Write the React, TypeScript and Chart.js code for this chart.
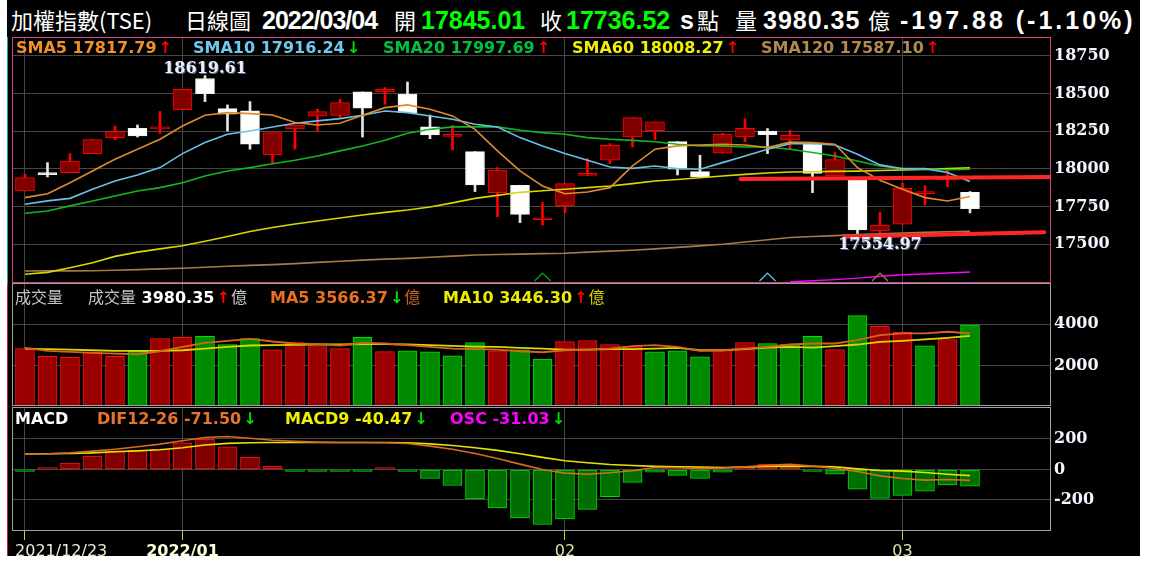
import React, { useEffect, useRef } from 'react';
import { Chart, registerables } from 'chart.js';

Chart.register(...registerables);

// ---------------- data ----------------
const lastDate = '2022/03/04';
const xTickIdx = [0, 7, 24, 39];
const xTickLabels = ['2021/12/23', '2022/01', '02', '03'];
const priceTicks = [17500, 17750, 18000, 18250, 18500, 18750];
const volumeTicks = [2000, 4000];
const macdTicks = [-200, 0, 200];

const open = [17854, 17967, 17976, 18102, 18208, 18270, 18266, 18392, 18600, 18400,
  18385, 18093, 18266, 18350, 18356, 18511, 18511, 18496, 18279, 18216,
  18115, 17843, 17892, 17663, 17755, 17957, 18058, 18212, 18254, 18181,
  17982, 18104, 18212, 18252, 18193, 18168, 17954, 17932, 17589, 17633,
  17836, 17928, 17845.01];
const high = [17965, 18042, 18102, 18195, 18285, 18292, 18381, 18529, 18619.61, 18425,
  18447, 18241, 18292, 18396, 18462, 18511, 18540, 18577, 18358, 18290,
  18115, 18009, 17892, 17777, 17903, 18069, 18168, 18341, 18312, 18181,
  18091, 18237, 18334, 18268, 18257, 18168, 18109, 17932, 17713, 17905,
  17889, 17996, 17850];
const low = [17854, 17947, 17976, 18102, 18193, 18212, 18235, 18392, 18447, 18252,
  18131, 18042, 18131, 18252, 18341, 18212, 18429, 18374, 18201, 18126,
  17850, 17684, 17644, 17628, 17710, 17957, 18035, 18146, 18193, 17960,
  17947, 18104, 18181, 18102, 18131, 17843, 17954, 17554.97, 17567, 17633,
  17761, 17882, 17708];
const close = [17943, 17962, 18053, 18195, 18248, 18219, 18272, 18529, 18500, 18363,
  18164, 18241, 18292, 18381, 18440, 18403, 18529, 18374, 18226, 18224,
  17894, 17993, 17699, 17668, 17903, 17962, 18157, 18341, 18312, 17998,
  17947, 18230, 18270, 18228, 18224, 17971, 18062, 17595, 17628, 17872,
  17843, 17934.4, 17736.52];

const sma5 = [17810, 17836, 17909, 17987, 18064, 18131, 18197, 18285, 18356, 18374,
  18367, 18358, 18308, 18292, 18303, 18356, 18407, 18425, 18396, 18352,
  18263, 18120, 17987, 17887, 17836, 17847, 17876, 18020, 18131, 18153,
  18159, 18164, 18159, 18142, 18178, 18175, 18164, 18009, 17925, 17865,
  17810, 17788, 17817.79];
const sma10 = [17766, 17788, 17805, 17865, 17920, 17960, 18009, 18102, 18175, 18230,
  18252, 18279, 18303, 18319, 18334, 18356, 18385, 18374, 18352, 18330,
  18297, 18279, 18208, 18153, 18102, 18058, 18013, 18004, 18020, 18002,
  17998, 18042, 18086, 18131, 18168, 18168, 18159, 18097, 18027, 18002,
  18002, 17976, 17916.24];
const sma20 = [17706, 17721, 17755, 17788, 17821, 17854, 17876, 17909, 17954, 17987,
  18009, 18035, 18058, 18086, 18120, 18153, 18190, 18237, 18263, 18279,
  18279, 18279, 18257, 18241, 18230, 18208, 18197, 18190, 18181, 18164,
  18153, 18153, 18146, 18146, 18131, 18109, 18086, 18053, 18020, 18002,
  17998, 17995, 17997.69];
const sma60 = [17301, 17314, 17345, 17378, 17420, 17448, 17470, 17490, 17520, 17552,
  17585, 17612, 17635, 17655, 17675, 17695, 17712, 17728, 17748, 17775,
  17805, 17825, 17845, 17855, 17865, 17876, 17887, 17903, 17920, 17930,
  17942, 17953, 17964, 17973, 17980, 17982, 17984, 17986, 17990, 17993,
  17996, 18002, 18008.27];
const sma120 = [17323, 17324, 17324, 17325, 17328, 17332, 17337, 17341, 17348, 17355,
  17360, 17365, 17372, 17380, 17388, 17395, 17402, 17407, 17414, 17422,
  17429, 17432, 17435, 17438, 17441, 17448, 17455, 17461, 17470, 17480,
  17490, 17500, 17515, 17530, 17545, 17552, 17558, 17565, 17570, 17575,
  17579, 17583, 17587.1];
const longMa: (number | null)[] = [null, null, null, null, null, null, null, null, null, null,
  null, null, null, null, null, null, null, null, null, null,
  null, null, null, null, null, null, null, null, null, null,
  null, null, null, null, 17252, 17258, 17266, 17276, 17288, 17298,
  17303, 17310, 17316];

const trendLineA = [[31.8, 17934], [45.55, 17946]];
const trendLineB = [[36.45, 17551], [45.3, 17580]];
const signalIdx = [23, 33, 38];
const signalColor = ['#00b000', '#6cc4ec', '#a87a48'];

const volume = [2829, 2455, 2407, 2650, 2455, 2699, 3317, 3366, 3415, 3024,
  3317, 2764, 3122, 2927, 2829, 3366, 2683, 2715, 2667, 2472,
  3122, 2715, 2764, 2325, 3171, 3220, 3024, 2927, 2667, 2715,
  2423, 2780, 3122, 3073, 3024, 3415, 2780, 4423, 3902, 3610,
  2959, 3268, 3980.35];
const volumeUp = [1, 1, 1, 1, 1, 0, 1, 1, 0, 0,
  0, 1, 1, 1, 1, 0, 1, 0, 0, 0,
  0, 1, 0, 0, 1, 1, 1, 1, 0, 0,
  0, 1, 1, 0, 0, 0, 1, 0, 1, 1,
  0, 1, 0];
const volMa5 = [2862, 2715, 2667, 2618, 2585, 2553, 2699, 2911, 3106, 3203,
  3301, 3171, 3073, 3041, 2976, 3106, 3073, 2992, 2911, 2829,
  2797, 2780, 2699, 2650, 2748, 2780, 2829, 2943, 2992, 2911,
  2715, 2748, 2829, 2911, 3024, 3073, 3073, 3236, 3480, 3561,
  3561, 3642, 3566.37];
const volMa10 = [2829, 2797, 2780, 2748, 2715, 2715, 2715, 2748, 2829, 2911,
  2976, 2992, 3008, 3024, 3024, 3041, 3041, 3024, 2992, 2959,
  2927, 2911, 2862, 2829, 2780, 2780, 2797, 2797, 2829, 2862,
  2748, 2748, 2797, 2878, 2911, 2878, 2943, 3024, 3155, 3203,
  3268, 3350, 3446.3];

const osc = [-10, 10, 42, 87, 122, 127, 133, 175, 197, 149,
  79, 22, -10, -10, -5, -8, 6, -4, -59, -105,
  -193, -252, -317, -361, -324, -262, -179, -85, -17, -39,
  -59, -17, 17, 35, 35, -10, -31, -129, -190, -170,
  -142, -102, -109];
const dif = [101, 103, 109, 120, 133, 149, 166, 188, 210, 216,
  205, 192, 184, 179, 177, 177, 175, 170, 153, 133,
  105, 72, 35, 0, -24, -31, -22, -9, 13, 11,
  7, 9, 17, 28, 33, 22, 7, -13, -42, -59,
  -70, -66, -71.5];
const macd9 = [101, 103, 105, 109, 116, 122, 129, 142, 160, 171,
  175, 177, 177, 177, 177, 177, 177, 175, 168, 157,
  142, 125, 103, 79, 57, 44, 33, 26, 20, 17,
  15, 13, 15, 20, 22, 20, 17, 4, -7, -11,
  -20, -31, -40.47];

// ---------------- styling / layout constants ----------------
const X_MIN = -0.533;
const X_MAX = 45.556;
const GRID = '#464646';
const SANS = '"DejaVu Sans", sans-serif';
const CJK = '"Noto Sans CJK TC", "Noto Sans CJK SC", sans-serif';
const TITLE = '"Liberation Sans", Arial, sans-serif';
const UP = '#ff0000';
const DOWN = '#00e000';

const pts = (arr: (number | null)[]) =>
  arr.map((v, i) => (v == null ? null : { x: i, y: v })).filter(Boolean);

function makeFrame(color: string) {
  return {
    id: 'frame',
    afterDraw(chart: any) {
      const { ctx, chartArea: a } = chart;
      ctx.save();
      ctx.strokeStyle = color;
      ctx.lineWidth = 1;
      ctx.strokeRect(a.left - 0.5, a.top - 0.5, a.right - a.left + 1, a.bottom - a.top + 1);
      ctx.restore();
    },
  };
}

const extremaPlugin = {
  id: 'extrema',
  afterDatasetsDraw(chart: any) {
    const { ctx, scales } = chart;
    const hi = high.indexOf(Math.max(...high));
    const lo = low.indexOf(Math.min(...low));
    const items = [
      { x: scales.x.getPixelForValue(hi), y: scales.y.getPixelForValue(high[hi]) - 7, t: high[hi].toFixed(2) },
      { x: scales.x.getPixelForValue(lo) + 22.5, y: scales.y.getPixelForValue(low[lo]) + 8.5, t: low[lo].toFixed(2) },
    ];
    ctx.save();
    ctx.font = 'bold 16px "DejaVu Serif"';
    ctx.textAlign = 'center';
    ctx.textBaseline = 'middle';
    for (const it of items) {
      ctx.fillStyle = '#56688a';
      ctx.fillText(it.t, it.x + 1, it.y + 1);
      ctx.fillStyle = '#eaf0fb';
      ctx.fillText(it.t, it.x, it.y);
    }
    ctx.restore();
  },
};

const signalPlugin = {
  id: 'signals',
  afterDatasetsDraw(chart: any) {
    const { ctx, chartArea: a, scales } = chart;
    ctx.save();
    ctx.lineWidth = 1.2;
    signalIdx.forEach((idx, k) => {
      const x = scales.x.getPixelForValue(idx);
      ctx.strokeStyle = signalColor[k];
      ctx.beginPath();
      ctx.moveTo(x - 8, a.bottom - 1);
      ctx.lineTo(x, a.bottom - 9);
      ctx.lineTo(x + 8, a.bottom - 1);
      ctx.stroke();
    });
    ctx.restore();
  },
};

function yAxis(min: number, max: number, ticks: number[]) {
  return {
    type: 'linear',
    position: 'right',
    min,
    max,
    bounds: 'data',
    afterBuildTicks: (s: any) => { s.ticks = ticks.map((v) => ({ value: v })); },
    afterFit: (s: any) => { s.width = 99; s.paddingTop = 0; s.paddingBottom = 0; },
    grid: { color: GRID, drawTicks: false, lineWidth: 1 },
    border: { display: false },
    ticks: {
      color: '#f4f6ff',
      padding: 4,
      autoSkip: false,
      font: { family: 'DejaVu Serif', size: 16, weight: 'bold' },
      callback: (v: any) => String(v),
    },
  };
}

function xAxisPlain() {
  return {
    type: 'linear',
    min: X_MIN,
    max: X_MAX,
    offset: false,
    bounds: 'data',
    afterBuildTicks: (s: any) => { s.ticks = xTickIdx.map((v) => ({ value: v })); },
    afterFit: (s: any) => { s.height = 0; s.paddingLeft = 0; s.paddingRight = 0; },
    grid: { color: GRID, drawTicks: false, offset: false },
    border: { display: false },
    ticks: { display: false },
  };
}

const xLabelValues = [X_MIN + 0.09, ...xTickIdx, X_MAX];
const xLabelTexts = [xTickLabels[0], '', ...xTickLabels.slice(1), ''];
const isRealTick = (i: number) => i > 0 && i < xLabelValues.length - 1;

function xAxisLabelled() {
  return {
    type: 'linear',
    min: X_MIN,
    max: X_MAX,
    offset: false,
    bounds: 'data',
    afterBuildTicks: (s: any) => { s.ticks = xLabelValues.map((v) => ({ value: v })); },
    afterFit: (s: any) => { s.height = 26; s.paddingLeft = 0; s.paddingRight = 0; },
    grid: {
      offset: false,
      color: (c: any) => (isRealTick(c.index) ? GRID : 'rgba(0,0,0,0)'),
      tickColor: (c: any) => (isRealTick(c.index) ? '#d4d400' : 'rgba(0,0,0,0)'),
      drawTicks: true,
      tickLength: 10,
    },
    border: { display: false },
    ticks: {
      autoSkip: false,
      maxRotation: 0,
      minRotation: 0,
      align: 'inner',
      padding: 2,
      callback: (_v: any, i: number) => xLabelTexts[i],
      color: (c: any) => (c.index === 2 ? '#ffffd8' : c.index === 0 ? '#ececd0' : '#e2e2a4'),
      font: (c: any) => ({ family: 'DejaVu Sans', size: 16, weight: c.index === 2 ? 'bold' : 'normal' }),
    },
  };
}

const baseOptions = (padding: any) => ({
  responsive: false,
  maintainAspectRatio: false,
  animation: false,
  events: [],
  layout: { padding },
  plugins: { legend: { display: false }, tooltip: { enabled: false } },
});

const line = (arr: (number | null)[], color: string, order: number, width = 1.6) => ({
  type: 'line',
  data: pts(arr),
  borderColor: color,
  borderWidth: width,
  pointRadius: 0,
  tension: 0,
  order,
});

function priceConfig(): any {
  const idx = close.map((_, i) => i);
  const up = idx.map((i) => close[i] >= open[i]);
  return {
    type: 'bar',
    data: {
      datasets: [
        { type: 'line', data: trendLineA.map(([x, y]) => ({ x, y })), borderColor: '#ff2626', borderWidth: 4, borderCapStyle: 'round', pointRadius: 0, order: 0 },
        { type: 'line', data: trendLineB.map(([x, y]) => ({ x, y })), borderColor: '#ff2626', borderWidth: 4, borderCapStyle: 'round', pointRadius: 0, order: 0 },
        line(sma5, '#e08a2c', 1),
        line(sma10, '#6cc0e8', 2),
        line(sma20, '#10b820', 3),
        line(sma60, '#d8d800', 4),
        line(sma120, '#a87a48', 5),
        line(longMa, '#ff00ff', 6, 1.4),
        {
          type: 'bar',
          data: idx.map((i) => ({ x: i, y: [open[i], close[i]] })),
          grouped: false,
          barThickness: 19,
          minBarLength: 2,
          backgroundColor: up.map((u) => (u ? '#800000' : '#ffffff')),
          borderColor: up.map((u) => (u ? '#ff0000' : '#f2f2f2')),
          borderWidth: 1,
          borderSkipped: false,
          order: 10,
        },
        {
          type: 'bar',
          data: idx.map((i) => ({ x: i, y: [low[i], high[i]] })),
          grouped: false,
          barThickness: 2,
          backgroundColor: up.map((u) => (u ? '#ff0000' : '#e6e6e6')),
          borderWidth: 0,
          order: 11,
        },
      ],
    },
    options: {
      ...baseOptions({ left: 1, top: 1, right: 0, bottom: 1 }),
      scales: { x: xAxisPlain(), y: yAxis(17250, 18869, priceTicks) },
    },
    plugins: [signalPlugin, extremaPlugin, makeFrame('#cc4488')],
  };
}

function volumeConfig(): any {
  return {
    type: 'bar',
    data: {
      datasets: [
        line(volMa5, '#d8641c', 1, 1.8),
        line(volMa10, '#d8d800', 2, 1.8),
        {
          type: 'bar',
          data: pts(volume),
          grouped: false,
          barThickness: 19,
          backgroundColor: volumeUp.map((u) => (u ? '#9a0000' : '#008a00')),
          borderColor: volumeUp.map((u) => (u ? '#ff1010' : '#00e000')),
          borderWidth: 1,
          borderSkipped: false,
          order: 10,
        },
      ],
    },
    options: {
      ...baseOptions({ left: 1, top: 1, right: 0, bottom: 1 }),
      scales: { x: xAxisPlain(), y: yAxis(100, 5950, volumeTicks) },
    },
    plugins: [makeFrame('#a0a0a0')],
  };
}

function macdConfig(): any {
  return {
    type: 'bar',
    data: {
      datasets: [
        line(dif, '#d86a22', 1, 1.6),
        line(macd9, '#e4e400', 2, 1.6),
        {
          type: 'bar',
          data: pts(osc),
          grouped: false,
          barThickness: 19,
          minBarLength: 2,
          backgroundColor: osc.map((v) => (v >= 0 ? '#800000' : '#006e00')),
          borderColor: osc.map((v) => (v >= 0 ? '#ff1010' : '#00dd00')),
          borderWidth: 1,
          borderSkipped: false,
          order: 10,
        },
      ],
    },
    options: {
      ...baseOptions({ left: 1, top: 1, right: 0, bottom: 0 }),
      scales: { x: xAxisLabelled(), y: yAxis(-397, 403, macdTicks) },
    },
    plugins: [makeFrame('#a0a0a0')],
  };
}

// ---------------- text helpers ----------------
type Seg = { t: string; c: string; cjk?: boolean; gap?: number };

const last = (a: number[]) => a[a.length - 1];
const prev = (a: number[]) => a[a.length - 2];
const arrowSeg = (cur: number, before: number): Seg =>
  cur >= before ? { t: '↑', c: UP, gap: 2 } : { t: '↓', c: DOWN, gap: 2 };

function Run({ x, cy, segs }: { x: number; cy: number; segs: Seg[] }) {
  return (
    <div style={{ position: 'absolute', left: x, top: cy - 10, height: 20, lineHeight: '20px', whiteSpace: 'nowrap', fontSize: 16, fontFamily: SANS, fontWeight: 700 }}>
      {segs.map((s, i) => (
        <span key={i} style={{ color: s.c, fontFamily: s.cjk ? CJK : SANS, fontWeight: s.cjk ? 400 : 700, marginLeft: s.gap ?? 0 }}>{s.t}</span>
      ))}
    </div>
  );
}

function TitleText({ x, t, c = '#ffffff', cjk = false, ls = 0 }: { x: number; t: string; c?: string; cjk?: boolean; ls?: number }) {
  return (
    <div style={{
      position: 'absolute', left: x, top: cjk ? 4 : 5, height: 30, lineHeight: '30px', whiteSpace: 'nowrap',
      color: c, fontFamily: cjk ? CJK : TITLE, fontSize: cjk ? 22 : 25, fontWeight: cjk ? 400 : 700, letterSpacing: ls,
    }}>{t}</div>
  );
}

export default function App() {
  const priceRef = useRef<HTMLCanvasElement>(null);
  const volRef = useRef<HTMLCanvasElement>(null);
  const macdRef = useRef<HTMLCanvasElement>(null);

  useEffect(() => {
    const charts = [
      new Chart(priceRef.current as HTMLCanvasElement, priceConfig()),
      new Chart(volRef.current as HTMLCanvasElement, volumeConfig()),
      new Chart(macdRef.current as HTMLCanvasElement, macdConfig()),
    ];
    return () => charts.forEach((c) => c.destroy());
  }, []);

  const change = last(close) - prev(close);
  const pct = (change / prev(close)) * 100;
  const oscNow = last(dif) - last(macd9);

  const smaItems = [
    { x: 16, name: 'SMA5', arr: sma5, color: '#f0902a' },
    { x: 193, name: 'SMA10', arr: sma10, color: '#70c8f0' },
    { x: 383, name: 'SMA20', arr: sma20, color: '#00c040' },
    { x: 572, name: 'SMA60', arr: sma60, color: '#f0f000' },
    { x: 761, name: 'SMA120', arr: sma120, color: '#b08850' },
  ];

  const canvasStyle = (top: number) => ({ position: 'absolute' as const, left: 12, top });

  return (
    <div style={{ position: 'fixed', left: 0, top: 0, width: 1149, height: 563, background: '#ffffff', overflow: 'hidden' }}>
      <div style={{ position: 'absolute', left: 7, top: 0, width: 1133, height: 556, background: '#000000' }} />
      <div style={{ position: 'absolute', left: 7, top: 37, width: 1, height: 247, background: '#2aa0a0' }} />
      <div style={{ position: 'absolute', left: 7, top: 284, width: 1, height: 272, background: '#c82030' }} />

      <canvas ref={priceRef} width={1137} height={246} style={canvasStyle(37)} />
      <canvas ref={volRef} width={1137} height={123} style={canvasStyle(283)} />
      <canvas ref={macdRef} width={1137} height={149} style={canvasStyle(407)} />

      {/* title */}
      <TitleText x={11} t="加權指數(TSE)" cjk />
      <TitleText x={185} t="日線圖" cjk />
      <TitleText x={262} t={lastDate} ls={-1} />
      <TitleText x={394} t="開" cjk />
      <TitleText x={421} t={last(open).toFixed(2)} c="#00ff00" />
      <TitleText x={540} t="收" cjk />
      <TitleText x={566} t={last(close).toFixed(2)} c="#00ff00" />
      <TitleText x={680} t="s" />
      <TitleText x={697} t="點" cjk />
      <TitleText x={735} t="量" cjk />
      <TitleText x={763} t={last(volume).toFixed(2)} ls={1} />
      <TitleText x={868} t="億" cjk />
      <TitleText x={900} t={`${change.toFixed(2)} (${pct.toFixed(2)}%)`} ls={3} />

      {/* price legend */}
      {smaItems.map((s) => (
        <Run key={s.name} x={s.x} cy={48} segs={[
          { t: `${s.name} ${last(s.arr).toFixed(2)}`, c: s.color },
          arrowSeg(last(s.arr), prev(s.arr)),
        ]} />
      ))}

      {/* volume legend */}
      <Run x={15} cy={296} segs={[{ t: '成交量', c: '#c4c4c4', cjk: true }]} />
      <Run x={88} cy={296} segs={[
        { t: '成交量', c: '#c4c4c4', cjk: true },
        { t: ` ${last(volume).toFixed(2)}`, c: '#ffffff' },
        arrowSeg(last(volume), prev(volume)),
        { t: '億', c: '#c4c4c4', cjk: true, gap: 1 },
      ]} />
      <Run x={270} cy={296} segs={[
        { t: `MA5 ${last(volMa5).toFixed(2)}`, c: '#e8701e' },
        arrowSeg(last(volMa5), prev(volMa5)),
        { t: '億', c: '#c8601c', cjk: true, gap: 1 },
      ]} />
      <Run x={443} cy={296} segs={[
        { t: `MA10 ${last(volMa10).toFixed(2)}`, c: '#ecec00' },
        arrowSeg(last(volMa10), prev(volMa10)),
        { t: '億', c: '#d0d000', cjk: true, gap: 1 },
      ]} />

      {/* macd legend */}
      <Run x={15} cy={419} segs={[{ t: 'MACD', c: '#ffffff' }]} />
      <Run x={97} cy={419} segs={[
        { t: `DIF12-26 ${last(dif).toFixed(2)}`, c: '#e6732c' },
        arrowSeg(last(dif), prev(dif)),
      ]} />
      <Run x={285} cy={419} segs={[
        { t: `MACD9 ${last(macd9).toFixed(2)}`, c: '#f0f000' },
        arrowSeg(last(macd9), prev(macd9)),
      ]} />
      <Run x={450} cy={419} segs={[
        { t: `OSC ${oscNow.toFixed(2)}`, c: '#ff00ff' },
        arrowSeg(last(osc), prev(osc)),
      ]} />
    </div>
  );
}
